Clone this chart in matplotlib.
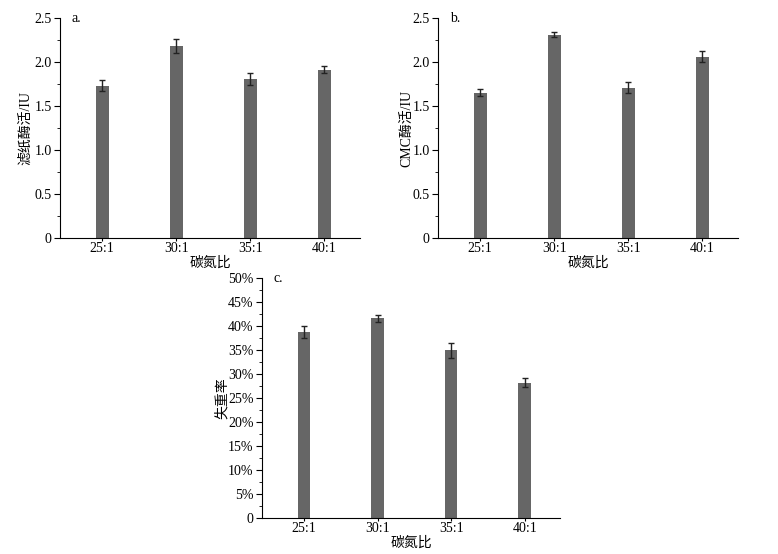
import numpy as np
import matplotlib.pyplot as plt
from matplotlib.ticker import MultipleLocator, FuncFormatter

plt.rcParams['font.family'] = ['Liberation Serif', 'Noto Sans CJK SC']
plt.rcParams['font.size'] = 10

categories = ['25:1', '30:1', '35:1', '40:1']
fpa = [1.73, 2.18, 1.81, 1.91]
fpa_err = [0.06, 0.08, 0.07, 0.04]
cmc = [1.65, 2.31, 1.71, 2.06]
cmc_err = [0.04, 0.03, 0.06, 0.06]
loss = [38.8, 41.6, 34.9, 28.2]
loss_err = [1.2, 0.7, 1.5, 1.0]

W, H = 778, 554
fig = plt.figure(figsize=(W / 100, H / 100), dpi=100)


def panel(rect, vals, errs, ylabel, ylab_x, tag, ymax, major, fmt):
    l, t, r, b = rect
    ax = fig.add_axes([l / W, 1 - b / H, (r - l) / W, (b - t) / H])
    x = np.arange(len(categories))
    ax.bar(x, vals, width=0.17, color='#666666', yerr=errs, capsize=2.5,
           error_kw=dict(ecolor='#222222', elinewidth=1, capthick=1))
    ax.set_xlim(-0.57, 3.48)
    ax.set_ylim(0, ymax)
    ax.set_xticks(x)
    ax.set_xticklabels(categories)
    ax.yaxis.set_major_locator(MultipleLocator(major))
    ax.yaxis.set_minor_locator(MultipleLocator(major / 2))
    ax.yaxis.set_major_formatter(FuncFormatter(fmt))
    ax.spines['top'].set_visible(False)
    ax.spines['right'].set_visible(False)
    ax.tick_params(axis='y', which='major', direction='out', length=4, pad=2)
    ax.tick_params(axis='y', which='minor', direction='out', length=2)
    ax.tick_params(axis='x', direction='out', length=2, pad=1)
    ax.set_xlabel('碳氮比', labelpad=1)
    ax.set_ylabel(ylabel, va='center')
    ax.yaxis.set_label_coords((ylab_x - l) / (r - l), 0.5)
    ax.text(0.04, 1.0, tag, transform=ax.transAxes, va='center', ha='left')
    return ax


def num_fmt(v, pos):
    return '0' if v == 0 else '%.1f' % v


def pct_fmt(v, pos):
    return '0' if v == 0 else '%d%%' % round(v)


panel((60, 18, 360, 238), fpa, fpa_err, '滤纸酶活/IU', 25, 'a.', 2.5, 0.5, num_fmt)
panel((438, 18, 738, 238), cmc, cmc_err, 'CMC酶活/IU', 407, 'b.', 2.5, 0.5, num_fmt)
panel((262, 278, 560, 518), loss, loss_err, '失重率', 222, 'c.', 50, 5, pct_fmt)

fig.savefig('out.png', dpi=100)
